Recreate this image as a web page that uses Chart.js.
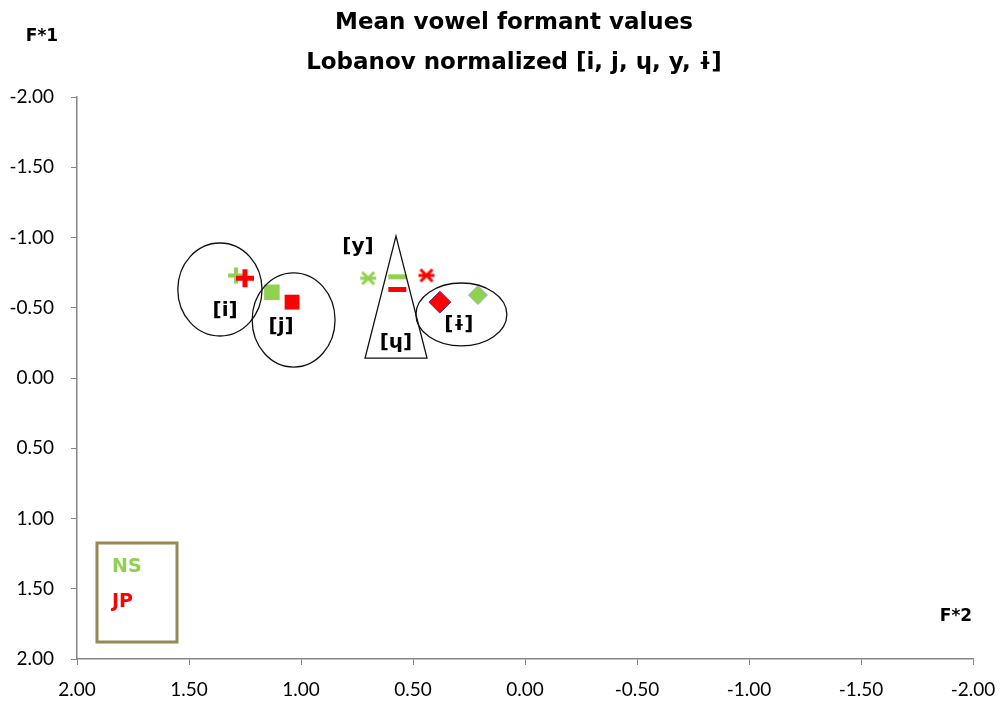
<!DOCTYPE html>
<html>
<head>
<meta charset="utf-8">
<script src="https://cdn.jsdelivr.net/npm/chart.js@4/dist/chart.umd.min.js"></script>
<style>
  body { margin: 0; background: #fff; }
  #wrap { width: 1001px; height: 704px; }
</style>
</head>
<body>
<div id="wrap"><canvas id="vowelChart" width="1001" height="704"></canvas></div>
<script>
// mean F*2 (x) and F*1 (y) per vowel, Lobanov normalized
const vowels = ["i", "j", "y", "ɥ", "ɨ"];
const nsF2 = [1.29, 1.13, 0.70, 0.57, 0.21];
const nsF1 = [-0.73, -0.61, -0.71, -0.72, -0.59];
const jpF2 = [1.25, 1.04, 0.44, 0.57, 0.38];
const jpF1 = [-0.71, -0.54, -0.73, -0.63, -0.54];
const axisTicks = [-2, -1.5, -1, -0.5, 0, 0.5, 1, 1.5, 2];
const titleLines = ["Mean vowel formant values", "Lobanov normalized [i, j, ɥ, y, ɨ]"];

const GREEN = "#92D050";
const RED = "#FF0000";
const BOLD = "bold {s}px 'DejaVu Sans'";

// hand drawn vowel areas, in data units
const ellipses = [
    { x: 1.362, y: -0.63, rx: 0.188, ry: 0.331 },
    { x: 1.033, y: -0.413, rx: 0.185, ry: 0.335 },
    { x: 0.284, y: -0.452, rx: 0.203, ry: 0.224 }
];
const triangle = [[0.576, -1.01], [0.714, -0.142], [0.4375, -0.142]];
const vowelLabels = [
    { t: "[i]", x: 1.339, y: -0.477 },
    { t: "[j]", x: 1.089, y: -0.363 },
    { t: "[y]", x: 0.746, y: -0.932 },
    { t: "[ɥ]", x: 0.576, y: -0.249 },
    { t: "[ɨ]", x: 0.295, y: -0.377 }
];

function font(size) {
    return BOLD.replace("{s}", size);
}

function asterisk(color) {
    const c = document.createElement("canvas");
    c.width = 18; c.height = 16;
    const g = c.getContext("2d");
    g.strokeStyle = color;
    g.lineWidth = 3;
    g.beginPath();
    g.moveTo(3, 2); g.lineTo(15, 14);
    g.moveTo(15, 2); g.lineTo(3, 14);
    g.moveTo(1, 8); g.lineTo(17, 8);
    g.stroke();
    return c;
}

function points(xs, ys) {
    return xs.map((x, i) => ({ x: x, y: ys[i] }));
}

const shapes = {
    id: "shapes",
    afterDatasetsDraw(chart) {
        const ctx = chart.ctx;
        const xs = chart.scales.x, ys = chart.scales.y;
        ctx.save();
        ctx.strokeStyle = "#111";
        ctx.lineWidth = 1.3;
        ellipses.forEach(e => {
            const cx = xs.getPixelForValue(e.x), cy = ys.getPixelForValue(e.y);
            const rx = Math.abs(xs.getPixelForValue(e.x + e.rx) - cx);
            const ry = Math.abs(ys.getPixelForValue(e.y + e.ry) - cy);
            ctx.beginPath();
            ctx.ellipse(cx, cy, rx, ry, 0, 0, Math.PI * 2);
            ctx.stroke();
        });
        ctx.beginPath();
        triangle.forEach((p, i) => {
            const px = xs.getPixelForValue(p[0]), py = ys.getPixelForValue(p[1]);
            if (i === 0) ctx.moveTo(px, py); else ctx.lineTo(px, py);
        });
        ctx.closePath();
        ctx.stroke();

        ctx.fillStyle = "#000";
        ctx.font = font(20);
        ctx.textAlign = "center";
        ctx.textBaseline = "middle";
        vowelLabels.forEach(l => {
            ctx.fillText(l.t, xs.getPixelForValue(l.x), ys.getPixelForValue(l.y));
        });

        // title
        ctx.font = font(23);
        ctx.fillText(titleLines[0], 514, 23);
        ctx.fillText(titleLines[1], 514, 63);

        // axis names
        ctx.font = font(17);
        ctx.fillText("F*1", 42, 37);
        ctx.fillText("F*2", 956, 617);

        // legend box
        ctx.strokeStyle = "#948A54";
        ctx.lineWidth = 3;
        ctx.strokeRect(97, 543, 80, 99);
        ctx.font = font(19);
        ctx.textAlign = "left";
        ctx.fillStyle = GREEN;
        ctx.fillText("NS", 112, 567);
        ctx.fillStyle = RED;
        ctx.fillText("JP", 112, 602);
        ctx.restore();
    }
};

const ctx = document.getElementById("vowelChart");

new Chart(ctx, {
    type: "scatter",
    data: {
        datasets: [
            {
                label: "JP",
                order: 0,
                data: points(jpF2, jpF1),
                pointStyle: ["cross", "rect", asterisk(RED), "line", "rectRot"],
                pointRadius: [9, 10.5, 8, 9, 11],
                backgroundColor: RED,
                pointBorderColor: [RED, RED, RED, RED, "#6a3a8a"],
                pointBorderWidth: [5, 0, 0, 5, 1]
            },
            {
                label: "NS",
                order: 1,
                data: points(nsF2, nsF1),
                pointStyle: ["cross", "rect", asterisk(GREEN), "line", "rectRot"],
                pointRadius: [8, 11, 8, 9, 9.5],
                backgroundColor: GREEN,
                pointBorderColor: [GREEN, GREEN, GREEN, GREEN, "#9fb0c8"],
                pointBorderWidth: [4, 0, 0, 5, 1]
            }
        ]
    },
    options: {
        responsive: false,
        animation: false,
        layout: { padding: { left: 0, right: 28, top: 97, bottom: 0 } },
        plugins: {
            legend: { display: false },
            tooltip: { enabled: false },
            title: { display: false }
        },
        scales: {
            x: {
                type: "linear",
                reverse: true,
                min: -2,
                max: 2,
                afterBuildTicks: s => { s.ticks = axisTicks.map(v => ({ value: v })); },
                afterFit: s => { s.height = 45; },
                grid: { drawOnChartArea: false, color: "#868686", tickLength: 6 },
                border: { color: "#868686", width: 1.5 },
                ticks: {
                    color: "#000",
                    padding: 13,
                    font: { family: "Lato", size: 19 },
                    callback: v => v.toFixed(2)
                }
            },
            y: {
                type: "linear",
                reverse: true,
                min: -2,
                max: 2,
                afterBuildTicks: s => { s.ticks = axisTicks.map(v => ({ value: v })); },
                afterFit: s => { s.width = 77; },
                grid: { drawOnChartArea: false, color: "#868686", tickLength: 6 },
                border: { color: "#868686", width: 1.5 },
                ticks: {
                    color: "#000",
                    padding: 17,
                    font: { family: "Lato", size: 19 },
                    callback: v => v.toFixed(2)
                }
            }
        }
    },
    plugins: [shapes]
});
</script>
</body>
</html>
